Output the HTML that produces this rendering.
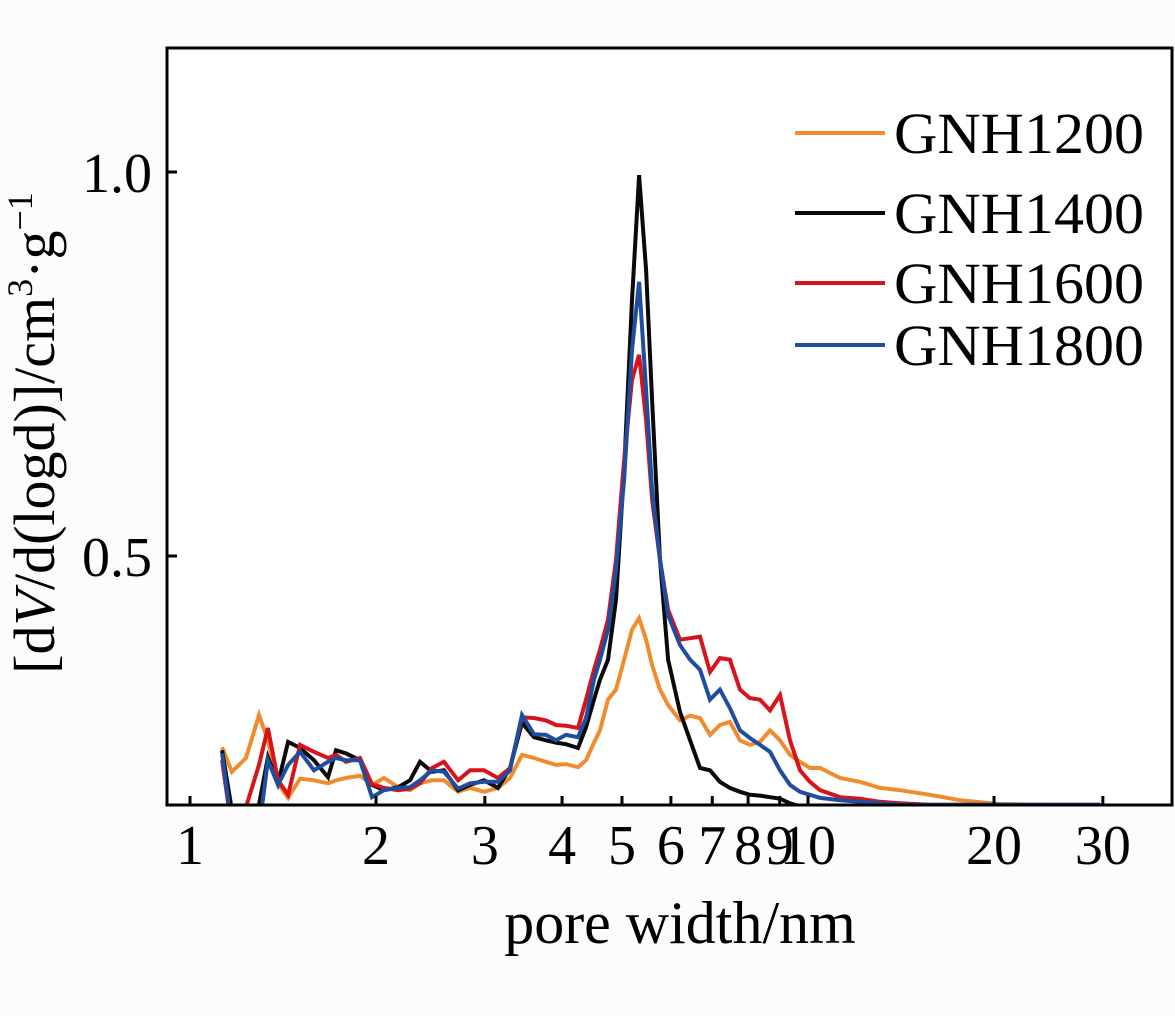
<!DOCTYPE html>
<html><head><meta charset="utf-8"><style>
html,body{margin:0;padding:0;background:#fcfcfc;}
svg{display:block;font-family:"Liberation Serif",serif;}
</style></head><body>
<svg id="chart" width="1175" height="1016" viewBox="0 0 1175 1016" xmlns="http://www.w3.org/2000/svg">
<rect x="0" y="0" width="1175" height="1016" fill="#fcfcfc"/>
<rect x="167" y="48" width="1005" height="757" fill="#fff"/>
<defs><clipPath id="clip"><rect x="167" y="48" width="1005" height="757"/></clipPath></defs>
<g id="series" clip-path="url(#clip)"></g>
<g id="axes"></g>
<rect x="167" y="48" width="1005" height="757" fill="none" stroke="#000" stroke-width="3"/>
<text x="680" y="943" font-size="60" text-anchor="middle">pore width/nm</text>
<text transform="translate(54,433) rotate(-90)" font-size="58" text-anchor="middle">[d<tspan font-style="italic">V</tspan>/d(logd)]/cm<tspan font-size="36" dy="-22">3</tspan><tspan dy="22">·g</tspan><tspan font-size="36" dy="-22">−1</tspan></text>
<g id="legend"></g>
</svg>
<script>
const xs=[1.127,1.169,1.232,1.293,1.337,1.388,1.441,1.507,1.587,1.672,1.723,1.788,1.884,1.970,2.060,2.171,2.270,2.356,2.464,2.576,2.715,2.839,2.990,3.151,3.295,3.445,3.603,3.768,3.911,4.059,4.245,4.373,4.506,4.607,4.747,4.891,5.040,5.191,5.329,5.470,5.594,5.762,5.937,6.208,6.444,6.687,6.940,7.203,7.476,7.762,8.055,8.363,8.680,9.010,9.352,9.707,10.07,10.46,11.27,12.14,13.08,14.09,15.76,17.62,20.45,24.64,29.69];
const gnh1200=[.251,.219,.237,.293,.260,.204,.185,.210,.208,.204,.208,.211,.214,.202,.211,.199,.195,.204,.208,.208,.193,.198,.193,.198,.211,.241,.237,.232,.228,.229,.225,.234,.257,.273,.313,.326,.365,.404,.419,.391,.358,.326,.306,.286,.292,.289,.267,.280,.284,.260,.254,.258,.273,.260,.241,.232,.224,.224,.211,.206,.198,.195,.189,.182,.177,.176,.176];
const gnh1400=[.247,.169,.169,.176,.238,.204,.258,.250,.234,.212,.247,.243,.234,.202,.195,.199,.208,.232,.219,.221,.195,.202,.208,.198,.224,.283,.264,.260,.257,.255,.250,.277,.313,.339,.365,.443,.612,.833,.996,.872,.703,.495,.365,.297,.260,.224,.221,.206,.198,.193,.189,.188,.186,.184,.178,.174,.169,.169,.169,.169,.169,.169,.169,.169,.169,.169,.169];
const gnh1600=[.234,.143,.173,.228,.276,.208,.189,.254,.245,.237,.241,.232,.237,.203,.198,.195,.197,.204,.224,.232,.208,.221,.221,.211,.224,.290,.289,.286,.280,.279,.276,.313,.352,.378,.417,.495,.625,.729,.762,.677,.573,.495,.430,.391,.393,.395,.349,.367,.365,.326,.315,.313,.299,.319,.260,.221,.206,.195,.186,.184,.180,.178,.176,.176,.176,.176,.176];
const gnh1800=[.243,.143,.143,.143,.234,.202,.228,.245,.221,.232,.237,.234,.234,.186,.195,.198,.199,.208,.221,.219,.197,.204,.206,.206,.221,.293,.268,.267,.260,.267,.264,.289,.339,.365,.404,.482,.599,.768,.857,.716,.586,.495,.423,.384,.365,.352,.313,.326,.302,.273,.263,.254,.245,.221,.202,.193,.189,.185,.182,.180,.178,.176,.176,.176,.176,.176,.176];
const seriesNames=["GNH1200","GNH1400","GNH1600","GNH1800"];
const seriesColors=["#f08c2e","#0a0a0a","#d7141c","#1f4e9e"];
const xTicks=[1,2,3,4,5,6,7,8,9,10,20,30];
const xTickLabels=["1","2","3","4","5","6","7","8","9","10","20","30"];
const yTicks=[0.5,1.0];
const yTickLabels=["0.5","1.0"];

const NS="http://www.w3.org/2000/svg";
function X(v){return 190+618*Math.log10(v);}
function Y(v){return 940-768*v;}
const sg=document.getElementById('series');
[gnh1200,gnh1400,gnh1600,gnh1800].forEach((arr,i)=>{
  const p=document.createElementNS(NS,'path');
  p.setAttribute('d',arr.map((v,j)=>(j?'L':'M')+X(xs[j]).toFixed(1)+','+Y(v).toFixed(1)).join(''));
  p.setAttribute('fill','none');p.setAttribute('stroke',seriesColors[i]);p.setAttribute('stroke-width','4');p.setAttribute('stroke-linejoin','miter');
  
  
  sg.appendChild(p);
});
const ax=document.getElementById('axes');
xTicks.forEach((t,i)=>{
  const l=document.createElementNS(NS,'line');
  l.setAttribute('x1',X(t));l.setAttribute('x2',X(t));l.setAttribute('y1',805);l.setAttribute('y2',796);
  l.setAttribute('stroke','#000');l.setAttribute('stroke-width','3');
  
  
  ax.appendChild(l);
  const tx=document.createElementNS(NS,'text');
  tx.setAttribute('x',X(t));tx.setAttribute('y',864);tx.setAttribute('font-size','56');tx.setAttribute('text-anchor','middle');
  tx.textContent=xTickLabels[i];
  
  
  ax.appendChild(tx);
});
yTicks.forEach((t,i)=>{
  const l=document.createElementNS(NS,'line');
  l.setAttribute('x1',167);l.setAttribute('x2',177);l.setAttribute('y1',Y(t));l.setAttribute('y2',Y(t));
  l.setAttribute('stroke','#000');l.setAttribute('stroke-width','3');
  
  
  ax.appendChild(l);
  const tx=document.createElementNS(NS,'text');
  tx.setAttribute('x',152);tx.setAttribute('y',Y(t)+20);tx.setAttribute('font-size','56');tx.setAttribute('text-anchor','end');
  tx.textContent=yTickLabels[i];
  
  
  ax.appendChild(tx);
});
const lg=document.getElementById('legend');
const lgY=[133,213,283,345];
seriesNames.forEach((n,i)=>{
  const l=document.createElementNS(NS,'line');
  l.setAttribute('x1',795);l.setAttribute('x2',885);l.setAttribute('y1',lgY[i]);l.setAttribute('y2',lgY[i]);
  l.setAttribute('stroke',seriesColors[i]);l.setAttribute('stroke-width','4');
  
  
  lg.appendChild(l);
  const tx=document.createElementNS(NS,'text');
  tx.setAttribute('x',894);tx.setAttribute('y',lgY[i]+20);tx.setAttribute('font-size','58');
  tx.setAttribute('textLength','250');tx.setAttribute('lengthAdjust','spacingAndGlyphs');
  tx.textContent=n;
  
  
  lg.appendChild(tx);
});
</script>
</body></html>
